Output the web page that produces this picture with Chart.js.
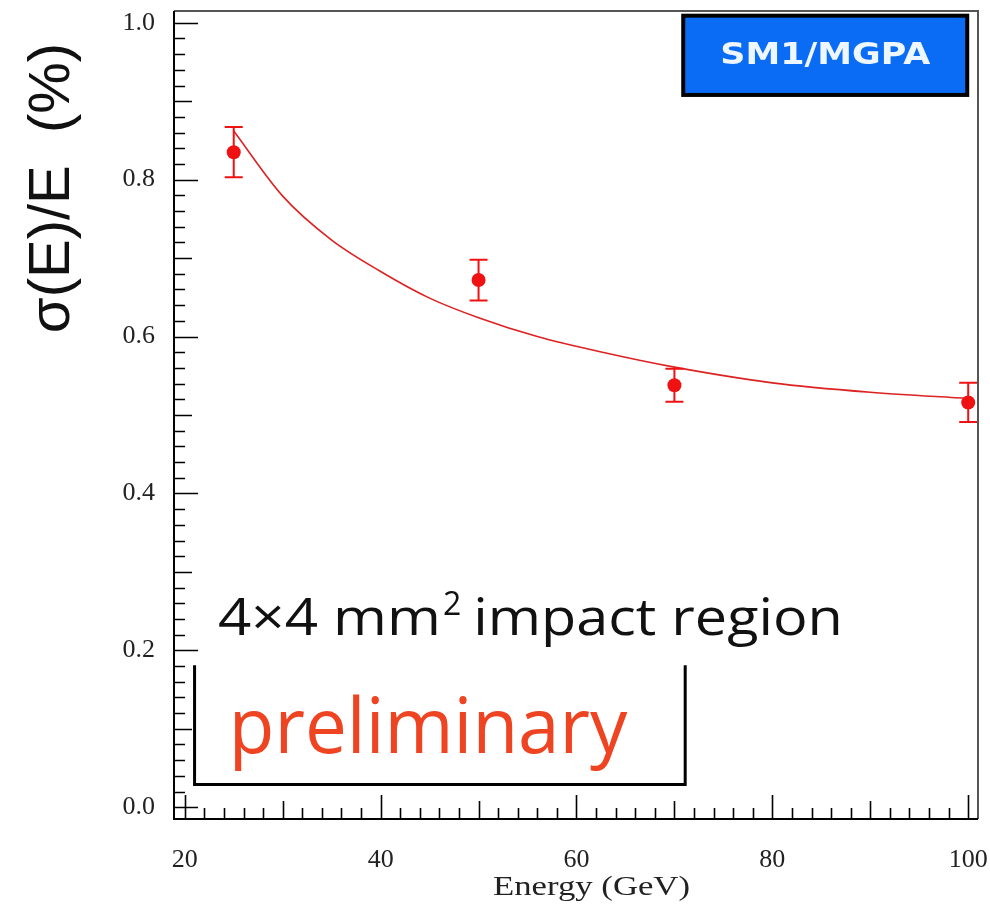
<!DOCTYPE html>
<html>
<head>
<meta charset="utf-8">
<script src="https://cdn.jsdelivr.net/npm/chart.js@4.4.1/dist/chart.umd.min.js"></script>
<style>
html, body { margin: 0; padding: 0; background: #fff; }
</style>
</head>
<body>
<canvas id="grafico" width="990" height="913"></canvas>
<script>
// DATOS
const energias = [25, 50, 70, 100];
const resolucion = [0.835, 0.672, 0.538, 0.516];
const errores = [0.032, 0.026, 0.021, 0.025];

// curva de ajuste, leida punto a punto
const ajusteEnergia = [25, 30, 35, 40, 45, 50, 56, 63, 70, 80, 90, 100];
const ajusteValor = [0.862, 0.779, 0.723, 0.683, 0.649, 0.624, 0.600, 0.579, 0.561, 0.541, 0.529, 0.521];

const ticksX = [20, 40, 60, 80, 100];
const ticksY = [0.0, 0.2, 0.4, 0.6, 0.8, 1.0];

const tituloY = "σ(E)/E  (%)";
const tituloX = "Energy (GeV)";
const etiquetaCaja = "SM1/MGPA";

const ROJO = '#f01212';

// texto estirado a un ancho dado
function textoAncho(ctx, txt, x, y, ancho){
    let w = ctx.measureText(txt).width;
    ctx.save();
    ctx.translate(x, y);
    ctx.scale(ancho / w, 1);
    ctx.fillText(txt, 0, 0);
    ctx.restore();
}

// BARRAS DE ERROR
const barrasError = {
    id: 'barrasError',
    afterDatasetsDraw(chart){
        const {ctx, scales:{x, y}} = chart;
        ctx.save();
        ctx.strokeStyle = ROJO;
        ctx.lineWidth = 2;
        energias.forEach((e, i) => {
            let px = x.getPixelForValue(e);
            let arriba = y.getPixelForValue(resolucion[i] + errores[i]);
            let abajo = y.getPixelForValue(resolucion[i] - errores[i]);
            ctx.beginPath();
            ctx.moveTo(px, arriba); ctx.lineTo(px, abajo);
            ctx.moveTo(px - 9, arriba); ctx.lineTo(px + 9, arriba);
            ctx.moveTo(px - 9, abajo); ctx.lineTo(px + 9, abajo);
            ctx.stroke();
        });
        ctx.restore();
    }
};

// MARCO Y MARCAS HACIA ADENTRO
const marco = {
    id: 'marco',
    afterDraw(chart){
        const {ctx, chartArea:a, scales:{x, y}} = chart;
        ctx.save();

        // bordes superior y derecho (gris)
        ctx.strokeStyle = '#555';
        ctx.lineWidth = 2;
        ctx.beginPath();
        ctx.moveTo(a.left, a.top); ctx.lineTo(a.right, a.top); ctx.lineTo(a.right, a.bottom);
        ctx.stroke();

        // ejes (negro)
        ctx.strokeStyle = '#000';
        ctx.beginPath();
        ctx.moveTo(a.left, a.top); ctx.lineTo(a.left, a.bottom); ctx.lineTo(a.right, a.bottom);
        ctx.stroke();

        ctx.lineWidth = 1.6;
        ctx.beginPath();
        for(let v = 20; v <= 100; v += 2){
            let largo = v % 20 === 0 ? 24 : (v % 10 === 0 ? 18 : 11);
            let px = Math.round(x.getPixelForValue(v)) + 0.5;
            ctx.moveTo(px, a.bottom); ctx.lineTo(px, a.bottom - largo);
        }
        for(let i = 0; i <= 50; i++){
            let largo = i % 10 === 0 ? 24 : (i % 5 === 0 ? 18 : 11);
            let py = Math.round(y.getPixelForValue(i * 0.02)) + 0.5;
            ctx.moveTo(a.left, py); ctx.lineTo(a.left + largo, py);
        }
        ctx.stroke();
        ctx.restore();
    }
};

// TEXTOS Y ANOTACIONES
const anotaciones = {
    id: 'anotaciones',
    afterDraw(chart){
        const {ctx, scales:{x, y}} = chart;
        ctx.save();

        // titulo eje Y
        ctx.save();
        ctx.translate(53, 188);
        ctx.rotate(-Math.PI / 2);
        ctx.font = '58px "Liberation Sans", Arial, sans-serif';
        ctx.fillStyle = '#111';
        ctx.textAlign = 'center';
        ctx.textBaseline = 'middle';
        ctx.fillText(tituloY, 0, 0);
        ctx.restore();

        // titulo eje X
        ctx.font = '28px "Liberation Serif", "Times New Roman", serif';
        ctx.fillStyle = '#222';
        ctx.textAlign = 'left';
        ctx.textBaseline = 'alphabetic';
        textoAncho(ctx, tituloX, 493, 895, 197);

        // caja SM1/MGPA
        let cx0 = x.getPixelForValue(70.9), cx1 = x.getPixelForValue(99.9);
        let cy0 = y.getPixelForValue(1.009), cy1 = y.getPixelForValue(0.908);
        ctx.fillStyle = '#0a6cf5';
        ctx.fillRect(cx0, cy0, cx1 - cx0, cy1 - cy0);
        ctx.strokeStyle = '#000';
        ctx.lineWidth = 4;
        ctx.strokeRect(cx0, cy0, cx1 - cx0, cy1 - cy0);
        ctx.fillStyle = '#eef6ff';
        ctx.font = 'bold 30px "DejaVu Sans", sans-serif';
        ctx.textAlign = 'left';
        ctx.textBaseline = 'middle';
        let anchoCaja = 210;
        textoAncho(ctx, etiquetaCaja, (cx0 + cx1) / 2 - anchoCaja / 2, (cy0 + cy1) / 2 + 1, anchoCaja);
        ctx.textBaseline = 'alphabetic';

        // 4x4 mm2 impact region
        ctx.fillStyle = '#111';
        let tx = x.getPixelForValue(23.4), ty = y.getPixelForValue(0.219);
        ctx.font = '52px "Open Sans", sans-serif';
        let parte1 = '4×4 mm';
        textoAncho(ctx, parte1, tx, ty, ctx.measureText(parte1).width * 1.12);
        tx += ctx.measureText(parte1).width * 1.12 + 2;
        ctx.font = '32px "Open Sans", sans-serif';
        ctx.fillText('2', tx, ty - 20);
        tx += ctx.measureText('2').width + 12;
        ctx.font = '52px "Open Sans", sans-serif';
        textoAncho(ctx, 'impact region', tx, ty, x.getPixelForValue(87.2) - tx);

        // corchete
        let bx0 = x.getPixelForValue(21.0), bx1 = x.getPixelForValue(71.1);
        let by0 = y.getPixelForValue(0.181), by1 = y.getPixelForValue(0.029);
        ctx.strokeStyle = '#000';
        ctx.lineWidth = 3;
        ctx.beginPath();
        ctx.moveTo(bx0, by0); ctx.lineTo(bx0, by1); ctx.lineTo(bx1, by1); ctx.lineTo(bx1, by0);
        ctx.stroke();

        // preliminary
        ctx.fillStyle = '#ee4422';
        ctx.font = '76px "Open Sans", sans-serif';
        let px0 = x.getPixelForValue(24.5);
        textoAncho(ctx, 'preliminary', px0, y.getPixelForValue(0.069), x.getPixelForValue(65.2) - px0);

        ctx.restore();
    }
};

const fuenteTicks = {family: '"Liberation Serif", "Times New Roman", serif', size: 26};

new Chart(document.getElementById('grafico'), {
    type: 'scatter',
    data: {
        datasets: [
            {
                label: 'Datos',
                data: energias.map((e, i) => ({x: e, y: resolucion[i]})),
                backgroundColor: ROJO,
                borderWidth: 0,
                pointRadius: 7,
                order: 1
            },
            {
                label: 'Ajuste',
                type: 'line',
                data: ajusteEnergia.map((e, i) => ({x: e, y: ajusteValor[i]})),
                borderColor: '#dd2222',
                borderWidth: 1.6,
                pointRadius: 0,
                fill: false,
                cubicInterpolationMode: 'monotone',
                order: 2
            }
        ]
    },
    options: {
        responsive: false,
        animation: false,
        layout: { padding: {top: 11, right: 12, left: 0, bottom: 0} },
        plugins: {
            legend: { display: false },
            tooltip: { enabled: false }
        },
        scales: {
            x: {
                type: 'linear',
                min: 18.9,
                max: 101,
                afterBuildTicks: s => { s.ticks = ticksX.map(v => ({value: v})); },
                afterFit: s => { s.height = 94; s.paddingLeft = 0; s.paddingRight = 0; },
                grid: { display: false },
                border: { display: false },
                ticks: {
                    font: fuenteTicks,
                    color: '#222',
                    padding: 18,
                    maxRotation: 0,
                    callback: v => String(v)
                }
            },
            y: {
                type: 'linear',
                min: -0.015,
                max: 1.015,
                afterBuildTicks: s => { s.ticks = ticksY.map(v => ({value: v})); },
                afterFit: s => { s.width = 174; s.paddingTop = 0; s.paddingBottom = 0; },
                grid: { display: false },
                border: { display: false },
                ticks: {
                    font: fuenteTicks,
                    color: '#222',
                    padding: 11,
                    callback: v => v.toFixed(1)
                }
            }
        }
    },
    plugins: [barrasError, marco, anotaciones]
});
</script>
</body>
</html>
